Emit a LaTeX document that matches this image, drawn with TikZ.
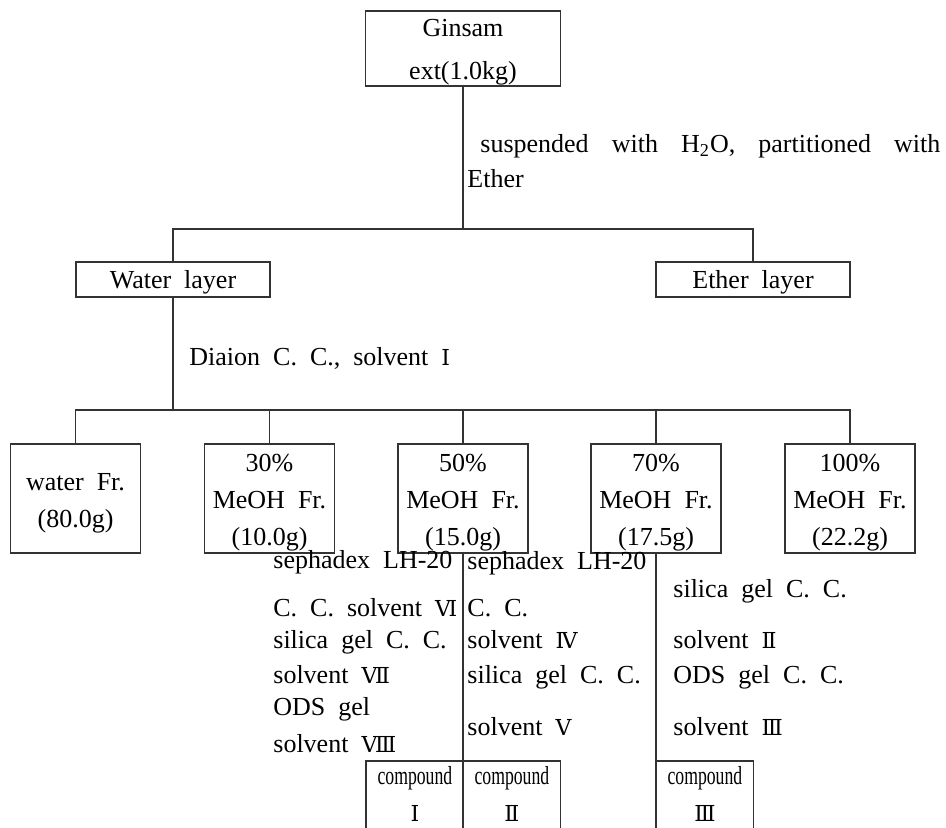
\documentclass[tikz,border=0pt]{standalone}
\usepackage{fontspec}
\setmainfont{Liberation Serif}[WordSpace={2,1.5,1}]
\newfontfamily\romfont{DejaVu Serif}
\newcommand{\romnum}[1]{{\romfont\fontsize{11}{18.5}\selectfont #1}}
\newcommand{\lift}{\rule{0pt}{13pt}}
\usetikzlibrary{positioning}

\begin{document}
\begin{tikzpicture}[x=0.5pt,y=-0.5pt,font=\fontsize{13}{18.5}\selectfont,
  box/.style={draw=black!80,line width=0.65pt,inner sep=0pt,align=center},
  layer/.style={box,minimum width=97pt,minimum height=17.5pt},
  frac/.style={box,minimum width=65pt,minimum height=54.5pt},
  cpd/.style={inner sep=0pt,align=center,anchor=north west,minimum width=48.5pt,minimum height=33pt},
  lbl/.style={anchor=base west,inner sep=0pt},
  link/.style={draw=black!80,line width=0.65pt}]
\useasboundingbox (0,0) rectangle (946,828);
\clip (0,0) rectangle (946,828);

% extract and partition
\node[box,minimum width=97.5pt,minimum height=37.5pt,font=\fontsize{13}{21.5}\selectfont] (ginsam) at (463,48.5) {\rule{0pt}{12.5pt}Ginsam\\ext(1.0kg)};
\node[layer] (water) at (173,279.5) {\rule{0pt}{12pt}Water layer};
\node[layer] (ether) at (753,279.5) {\rule{0pt}{12pt}Ether layer};
\coordinate (split) at (463,229);
\draw[link] (ginsam.south) -- (split);
\draw[link] (water.north) |- (split) -| (ether.north);
\node[lbl] (part1) at (467,153) {\hspace*{6.5pt}\makebox[230pt][s]{suspended with H\textsubscript{2}O, partitioned with}};
\node[lbl] (part2) at (467,188) {Ether};

% Diaion fractions
\node[frac] (f0) at (75.5,498.5) {\lift water Fr.\\(80.0g)};
\node[frac] (f30) at (269.5,498.5) {\lift 30\%\\MeOH Fr.\\(10.0g)};
\node[frac] (f50) at (463,498.5) {\lift 50\%\\MeOH Fr.\\(15.0g)};
\node[frac] (f70) at (656,498.5) {\lift 70\%\\MeOH Fr.\\(17.5g)};
\node[frac] (f100) at (850,498.5) {\lift 100\%\\MeOH Fr.\\(22.2g)};
\coordinate (diaion) at (173,410);
\draw[link] (water.south) -- (diaion);
\draw[link] (f0.north) |- (diaion) -| (f100.north);
\foreach \f in {f30,f50,f70}
  \draw[link] (\f.north) -- (\f.north |- diaion);
\node[lbl] (dia) at (189,365) {Diaion C. C., solvent \romnum{Ⅰ}};

% compounds (cut at the lower edge)
\node[cpd] (c1) at (366,761) {\scalebox{0.68}[1]{compound}\\\romnum{Ⅰ}};
\node[cpd] (c2) at (463,761) {\scalebox{0.68}[1]{compound}\\\romnum{Ⅱ}};
\node[cpd] (c3) at (656,761) {\scalebox{0.68}[1]{compound}\\\romnum{Ⅲ}};
\foreach \c in {c1,c2,c3}
  \draw[link] (\c.south west) -- (\c.north west) -- (\c.north east) -- (\c.south east);
\draw[link] (f50.south) -- (c2.north west);
\draw[link] (f70.south) -- (c3.north west);

% column conditions
\foreach \y/\t [count=\i] in {568/sephadex LH-20, 616/C. C. solvent \romnum{Ⅵ},
    648/silica gel C. C., 683/solvent \romnum{Ⅶ}, 715/ODS gel, 752/solvent \romnum{Ⅷ}}
  \node[lbl] (left\i) at (273,\y) {\t};
\foreach \y/\t [count=\i] in {569/sephadex LH-20, 616/C. C., 648/solvent \romnum{Ⅳ},
    683/silica gel C. C., 735/solvent \romnum{Ⅴ}}
  \node[lbl] (mid\i) at (467,\y) {\t};
\foreach \y/\t [count=\i] in {597/silica gel C. C., 648/solvent \romnum{Ⅱ},
    683/ODS gel C. C., 735/solvent \romnum{Ⅲ}}
  \node[lbl] (right\i) at (673,\y) {\t};
\end{tikzpicture}
\end{document}
